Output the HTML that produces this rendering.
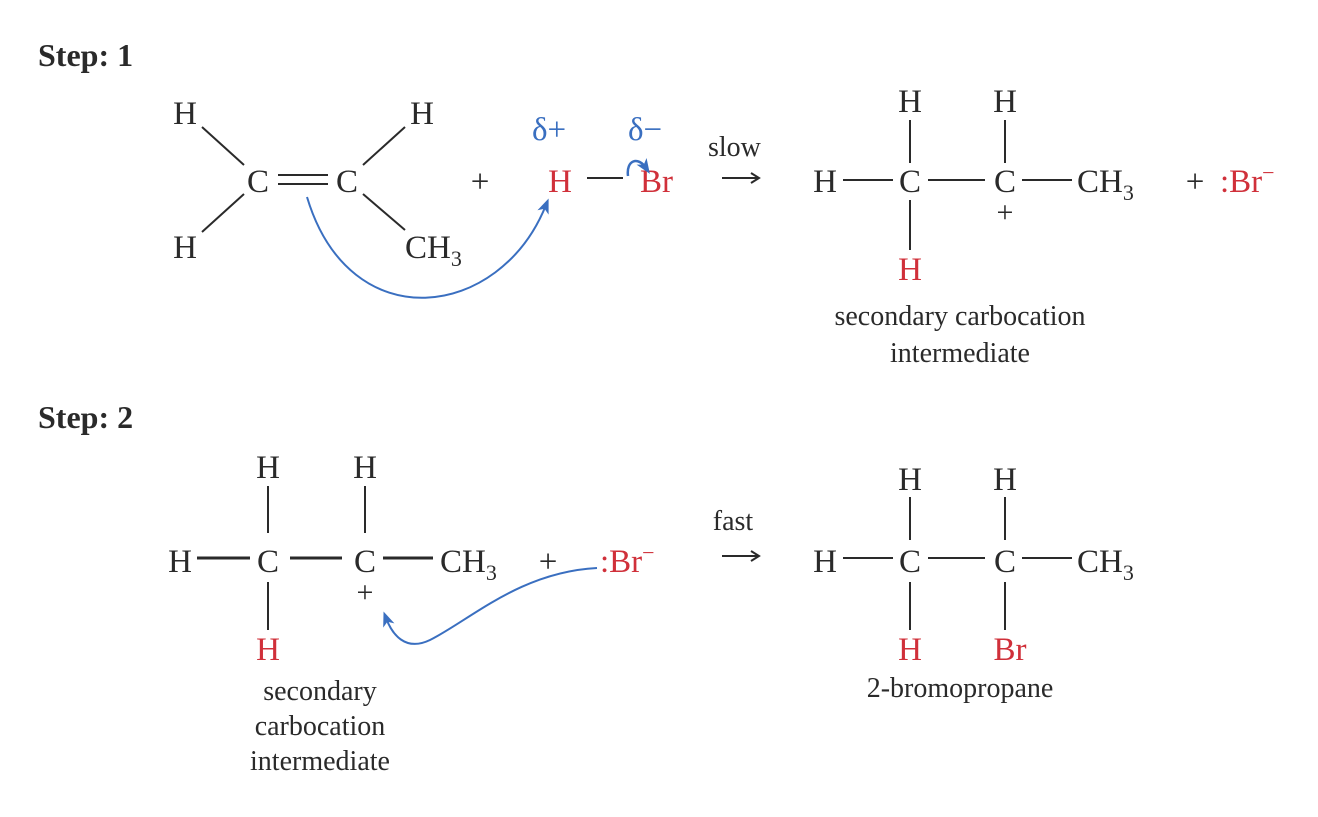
<!DOCTYPE html>
<html><head><meta charset="utf-8"><style>
html,body{margin:0;padding:0;background:#fff;}
svg text{font-family:"Liberation Serif",serif;fill:#2a2a2a;}
.r{fill:#d0303a !important;}
.b{fill:#3a6fc0 !important;}
</style></head><body>
<svg width="1318" height="812" viewBox="0 0 1318 812" xmlns="http://www.w3.org/2000/svg">
<defs>
<marker id="ah" markerWidth="16" markerHeight="16" refX="8" refY="8" orient="auto" markerUnits="userSpaceOnUse"><path d="M0,2 L15,8 L0,14 L4,8 Z" fill="#3a6fc0"/></marker>
</defs>
<g font-size="33">
<text x="38" y="66" font-weight="bold" font-size="32">Step: 1</text>
<text x="38" y="428" font-weight="bold" font-size="32">Step: 2</text>

<text x="185" y="124" text-anchor="middle">H</text>
<text x="185" y="258" text-anchor="middle">H</text>
<text x="258" y="192" text-anchor="middle">C</text>
<text x="347" y="192" text-anchor="middle">C</text>
<text x="422" y="124" text-anchor="middle">H</text>
<text x="405" y="258">CH<tspan font-size="22" dy="8">3</tspan></text>
<g stroke="#2a2a2a" stroke-width="2">
<line x1="202" y1="127" x2="244" y2="165"/>
<line x1="202" y1="232" x2="244" y2="194"/>
<line x1="278" y1="175" x2="328" y2="175"/>
<line x1="278" y1="184" x2="328" y2="184"/>
<line x1="363" y1="165" x2="405" y2="127"/>
<line x1="363" y1="194" x2="405" y2="230"/>
<line x1="587" y1="178" x2="623" y2="178"/>
</g>
<text x="480" y="192" text-anchor="middle">+</text>
<text x="560" y="192" text-anchor="middle" class="r">H</text>
<text x="640" y="192" class="r">Br</text>
<text x="532" y="140" class="b">δ+</text>
<text x="628" y="140" class="b">δ−</text>
<text x="708" y="156" font-size="28">slow</text>
<g stroke="#2a2a2a" stroke-width="2" fill="none">
<line x1="722" y1="178" x2="758" y2="178"/><path d="M751,173 L759,178 L751,183"/>
<line x1="722" y1="556" x2="758" y2="556"/><path d="M751,551 L759,556 L751,561"/>
</g>
<path d="M307,197 C350,340 500,320 546,205" fill="none" stroke="#3a6fc0" stroke-width="2" marker-end="url(#ah)"/>
<path d="M628,176 C626,160 638,156 646,168" fill="none" stroke="#3a6fc0" stroke-width="2.5" marker-end="url(#ah)"/>

<text x="825" y="192" text-anchor="middle">H</text>
<text x="910" y="192" text-anchor="middle">C</text>
<text x="1005" y="192" text-anchor="middle">C</text>
<text x="1077" y="192">CH<tspan font-size="22" dy="8">3</tspan></text>
<text x="1195" y="192" text-anchor="middle">+</text>
<text x="1220" y="192" class="r">:Br<tspan font-size="22" dy="-12">−</tspan></text>
<text x="910" y="112" text-anchor="middle">H</text>
<text x="1005" y="112" text-anchor="middle">H</text>
<text x="910" y="280" text-anchor="middle" class="r">H</text>
<text x="1005" y="222" text-anchor="middle" font-size="30">+</text>
<g stroke="#2a2a2a" stroke-width="2">
<line x1="843" y1="180" x2="893" y2="180"/>
<line x1="928" y1="180" x2="985" y2="180"/>
<line x1="1022" y1="180" x2="1072" y2="180"/>
<line x1="910" y1="120" x2="910" y2="163"/>
<line x1="1005" y1="120" x2="1005" y2="163"/>
<line x1="910" y1="200" x2="910" y2="250"/>
</g>
<text x="960" y="325" text-anchor="middle" font-size="28">secondary carbocation</text>
<text x="960" y="362" text-anchor="middle" font-size="28">intermediate</text>

<text x="180" y="572" text-anchor="middle">H</text>
<text x="268" y="572" text-anchor="middle">C</text>
<text x="365" y="572" text-anchor="middle">C</text>
<text x="440" y="572">CH<tspan font-size="22" dy="8">3</tspan></text>
<text x="548" y="572" text-anchor="middle">+</text>
<text x="600" y="572" class="r">:Br<tspan font-size="22" dy="-12">−</tspan></text>
<text x="268" y="478" text-anchor="middle">H</text>
<text x="365" y="478" text-anchor="middle">H</text>
<text x="268" y="660" text-anchor="middle" class="r">H</text>
<text x="365" y="602" text-anchor="middle" font-size="30">+</text>
<g stroke="#2a2a2a">
<line x1="197" y1="558" x2="250" y2="558" stroke-width="3"/>
<line x1="290" y1="558" x2="342" y2="558" stroke-width="3"/>
<line x1="383" y1="558" x2="433" y2="558" stroke-width="3"/>
<line x1="268" y1="486" x2="268" y2="533" stroke-width="2"/>
<line x1="365" y1="486" x2="365" y2="533" stroke-width="2"/>
<line x1="268" y1="582" x2="268" y2="630" stroke-width="2"/>
</g>
<path d="M597,568 C520,572 470,620 430,640 C405,652 392,634 386,618" fill="none" stroke="#3a6fc0" stroke-width="2" marker-end="url(#ah)"/>
<text x="320" y="700" text-anchor="middle" font-size="28">secondary</text>
<text x="320" y="735" text-anchor="middle" font-size="28">carbocation</text>
<text x="320" y="770" text-anchor="middle" font-size="28">intermediate</text>
<text x="733" y="530" text-anchor="middle" font-size="28">fast</text>

<text x="825" y="572" text-anchor="middle">H</text>
<text x="910" y="572" text-anchor="middle">C</text>
<text x="1005" y="572" text-anchor="middle">C</text>
<text x="1077" y="572">CH<tspan font-size="22" dy="8">3</tspan></text>
<text x="910" y="490" text-anchor="middle">H</text>
<text x="1005" y="490" text-anchor="middle">H</text>
<text x="910" y="660" text-anchor="middle" class="r">H</text>
<text x="1010" y="660" text-anchor="middle" class="r">Br</text>
<g stroke="#2a2a2a" stroke-width="2">
<line x1="843" y1="558" x2="893" y2="558"/>
<line x1="928" y1="558" x2="985" y2="558"/>
<line x1="1022" y1="558" x2="1072" y2="558"/>
<line x1="910" y1="497" x2="910" y2="540"/>
<line x1="1005" y1="497" x2="1005" y2="540"/>
<line x1="910" y1="582" x2="910" y2="630"/>
<line x1="1005" y1="582" x2="1005" y2="630"/>
</g>
<text x="960" y="697" text-anchor="middle" font-size="28">2-bromopropane</text>
</g>
</svg>
</body></html>
